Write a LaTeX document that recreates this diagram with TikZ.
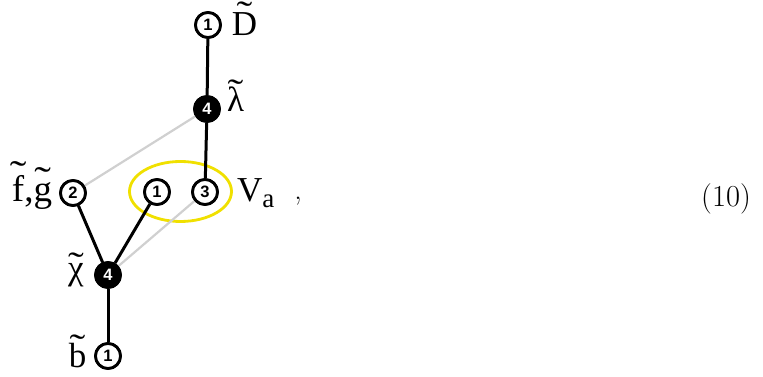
\documentclass[tikz,border=0pt]{standalone}
\usepackage{fontspec}
\usepackage{graphicx}
\newfontfamily\labf{Liberation Serif}
\newfontfamily\numf{Liberation Sans}
\usetikzlibrary{shapes.geometric}
\definecolor{hiyel}{RGB}{240,224,0}
\definecolor{ghost}{RGB}{208,208,208}
% letter with a tilde whose top lies #1 above the baseline
\newcommand{\tld}[2]{%
  \setbox0\hbox{#2}\setbox2\hbox{\scalebox{1.35}[1]{˜}}%
  \leavevmode\copy0\kern-\wd0
  \hbox to \wd0{\hss\raisebox{\dimexpr #1-\ht2\relax}[0pt][0pt]{\copy2}\hss}}
\tikzset{
  vtx/.style={circle,draw=black,line width=2.8pt,fill=white,minimum size=25pt,inner sep=0pt,
    font=\numf\bfseries\fontsize{16.5}{16.5}\selectfont},
  vtxf/.style={vtx,fill=black,text=white},
  edge/.style={line width=3pt,black},
  ghostedge/.style={line width=2.2pt,ghost},
  lab/.style={inner sep=0pt,font=\labf\fontsize{35}{35}\selectfont},
}
\begin{document}
\begin{tikzpicture}[x=1pt,y=1pt]
\useasboundingbox (0,0) rectangle (763,377);
% vertices (y = 377 - pixel y)
\node[vtx]  (D)  at (208,352) {1};
\node[vtxf] (L)  at (207,268) {4};
\node[vtx]  (FG) at (73,184) {2};
\node[vtx]  (M)  at (157,185) {1};
\node[vtx]  (V)  at (205,185) {3};
\node[vtxf] (C)  at (108,102) {4};
\node[vtx]  (B)  at (108,21) {1};
% highlight ellipse
\node[ellipse,draw=hiyel,line width=2.8pt,minimum width=102pt,minimum height=60pt,inner sep=0pt] (E) at (180.5,185.5) {};
% connectors
\draw[ghostedge] (L) -- (FG);
\draw[ghostedge] (C) -- (V);
\draw[edge] (D) -- (L);
\draw[edge] (L) -- (V);
\draw[edge] (FG) -- (C);
\draw[edge] (M) -- (C);
\draw[edge] (C) -- (B);
% vertices drawn again above the connectors
\node[vtx]  at (D) {1};
\node[vtxf] at (L) {4};
\node[vtx]  at (FG) {2};
\node[vtx]  at (M) {1};
\node[vtx]  at (V) {3};
\node[vtxf] at (C) {4};
\node[vtx]  at (B) {1};
% labels
\node[lab,anchor=base] (tD) at (244.5,341) {\tld{34pt}{D}};
\node[lab,anchor=base] (tL) at (235.5,265) {\tld{32pt}{λ}};
\node[lab,anchor=base,font=\labf\fontsize{37}{37}\selectfont] (tFG) at (32,175) {\tld{40pt}{f},\tld{34pt}{g}};
\node[lab,anchor=base west] (tV) at (237,175) {V\raisebox{-6pt}{\fontsize{27}{27}\selectfont a}};
\node[anchor=base,inner sep=0pt,font=\fontsize{30}{30}\selectfont] (tc) at (298,177) {,};
\node[lab,anchor=base] (tC) at (76,97) {\tld{27pt}{χ}};
\node[lab,anchor=base] (tB) at (77.5,9) {\tld{33pt}{b}};
\node[anchor=base,inner sep=0pt,font=\fontsize{30.5}{30.5}\selectfont] (eq) at (726,170) {(10)};
\end{tikzpicture}
\end{document}
